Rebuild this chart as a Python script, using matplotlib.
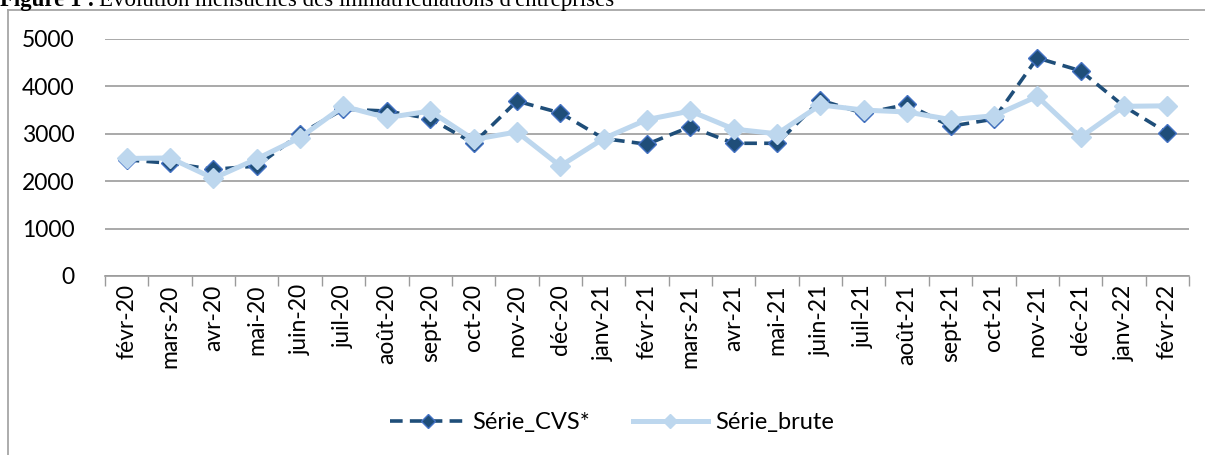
import matplotlib
matplotlib.use("Agg")
import matplotlib.pyplot as plt
from matplotlib.lines import Line2D
import numpy as np

months = ["févr-20", "mars-20", "avr-20", "mai-20", "juin-20", "juil-20", "août-20",
          "sept-20", "oct-20", "nov-20", "déc-20", "janv-21", "févr-21", "mars-21",
          "avr-21", "mai-21", "juin-21", "juil-21", "août-21", "sept-21", "oct-21",
          "nov-21", "déc-21", "janv-22", "févr-22"]
serie_cvs = [2450, 2380, 2250, 2320, 3000, 3520, 3480, 3320, 2800, 3690, 3440, 2900,
             2780, 3150, 2800, 2800, 3710, 3430, 3620, 3160, 3310, 4600, 4330, 3580, 3020]
serie_brute = [2480, 2490, 2060, 2470, 2920, 3580, 3340, 3480, 2880, 3040, 2320, 2900,
               3300, 3480, 3100, 3000, 3610, 3500, 3460, 3300, 3380, 3790, 2930, 3580, 3590]
yticks = [0, 1000, 2000, 3000, 4000, 5000]

W, H = 1205, 455
fig = plt.figure(figsize=(W / 100, H / 100), dpi=100)
fnt = "Lato"

ax = fig.add_axes([105 / W, 1 - 276 / H, (1189 - 105) / W, (276 - 39) / H])
x = np.arange(len(months))

cvs_col = "#1F4E79"
brute_col = "#BDD7EE"
ax.plot(x, serie_cvs, color=cvs_col, lw=2.6, ls=(0, (3.5, 2)), marker="D",
        markersize=9.5, markerfacecolor=cvs_col, markeredgecolor="#4472C4",
        markeredgewidth=1.0, label="Série_CVS*", zorder=3)
ax.plot(x, serie_brute, color=brute_col, lw=3.6, marker="D", markersize=10,
        markerfacecolor=brute_col, markeredgecolor=brute_col, label="Série_brute",
        zorder=4)

ax.set_xlim(-0.5, len(months) - 0.5)
ax.set_ylim(0, 5000)
ax.set_yticks(yticks)
ax.set_yticklabels([str(v) for v in yticks], fontsize=16.5, fontfamily=fnt)
ax.set_xticks(x)
ax.set_xticklabels(months, rotation=90, fontsize=16.5, fontfamily=fnt)
ax.set_xticks(np.arange(-0.5, len(months), 1.0), minor=True)
ax.tick_params(axis="x", which="major", length=0, pad=6)
ax.tick_params(axis="x", which="minor", length=7, color="#9B9B9B", width=1.0)
ax.tick_params(axis="y", length=0, pad=22)
ax.grid(axis="y", color="#9B9B9B", lw=1.2)
ax.set_axisbelow(True)
for s in ["top", "right", "left"]:
    ax.spines[s].set_visible(False)
ax.spines["bottom"].set_color("#9B9B9B")
ax.spines["bottom"].set_linewidth(1.2)

leg = fig.legend(loc="center", bbox_to_anchor=(612 / W, 1 - 423 / H), ncol=2,
                 frameon=False, handlelength=3.2, columnspacing=1.8,
                 handletextpad=0.3, markerscale=0.75,
                 prop={"family": fnt, "size": 17})

# outer chart border
fig.add_artist(Line2D([8 / W, 8 / W], [0, 1 - 10 / H], transform=fig.transFigure,
                      color="#A6A6A6", lw=1.3))
fig.add_artist(Line2D([8 / W, 1.0], [1 - 10 / H, 1 - 10 / H], transform=fig.transFigure,
                      color="#A6A6A6", lw=1.3))

# title (partially cut at top, as in the reference)
t1 = fig.text(0.0, 1 - 6 / H, "Figure 1 :", fontsize=16.5, fontweight="bold",
              fontfamily="Liberation Serif", va="baseline", ha="left")
r = fig.canvas.get_renderer()
bb = t1.get_window_extent(renderer=r)
fig.text((bb.x1 + 4) / W, 1 - 6 / H, "Evolution mensuelles des immatriculations d'entreprises",
         fontsize=16.5, fontfamily="Liberation Serif", va="baseline", ha="left")

fig.savefig("out.png", dpi=100)
